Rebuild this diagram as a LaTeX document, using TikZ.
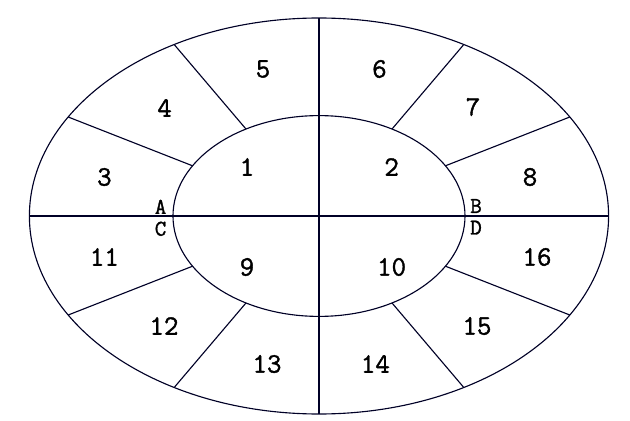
\documentclass[tikz,border=0pt]{standalone}
\usepackage{fontspec}
\newfontfamily\labelfont[FakeBold=1.4]{Latin Modern Mono}
\usepackage{tikz}
\usetikzlibrary{calc}
\colorlet{linecol}{black!85!blue}
\tikzset{ring/.style={draw=linecol,line width=0.8pt}}
\tikzset{num/.style={inner sep=0pt,font=\labelfont\fontsize{20}{20}\selectfont}}
\tikzset{pt/.style={inner sep=0pt,font=\labelfont\fontsize{16}{16}\selectfont}}

\begin{document}
\begin{tikzpicture}
                    \useasboundingbox (-7.975,-5.1) rectangle (7.775,5.4);

                    \draw[ring] (0,0) ellipse [x radius=7.24, y radius=4.95];
                    \draw[ring] (0,0) ellipse [x radius=3.65, y radius=2.51];

                    \coordinate (W) at (180:7.24 and 4.95);
                    \coordinate (E) at (0:7.24 and 4.95);
                    \coordinate (N) at (90:7.24 and 4.95);
                    \coordinate (S) at (270:7.24 and 4.95);

                    \coordinate (i30) at (30:3.65 and 2.51);
                    \coordinate (o30) at (30:7.24 and 4.95);
                    \coordinate (i60) at (60:3.65 and 2.51);
                    \coordinate (o60) at (60:7.24 and 4.95);
                    \coordinate (i120) at (120:3.65 and 2.51);
                    \coordinate (o120) at (120:7.24 and 4.95);
                    \coordinate (i150) at (150:3.65 and 2.51);
                    \coordinate (o150) at (150:7.24 and 4.95);
                    \coordinate (i210) at (210:3.65 and 2.51);
                    \coordinate (o210) at (210:7.24 and 4.95);
                    \coordinate (i240) at (240:3.65 and 2.51);
                    \coordinate (o240) at (240:7.24 and 4.95);
                    \coordinate (i300) at (300:3.65 and 2.51);
                    \coordinate (o300) at (300:7.24 and 4.95);
                    \coordinate (i330) at (330:3.65 and 2.51);
                    \coordinate (o330) at (330:7.24 and 4.95);

                    \draw[ring] (W) -- (E);
                    \draw[ring] (N) -- (S);
                    \draw[ring] (i30) -- (o30);
                    \draw[ring] (i60) -- (o60);
                    \draw[ring] (i120) -- (o120);
                    \draw[ring] (i150) -- (o150);
                    \draw[ring] (i210) -- (o210);
                    \draw[ring] (i240) -- (o240);
                    \draw[ring] (i300) -- (o300);
                    \draw[ring] (i330) -- (o330);

                    \node[num] (n1) at (-1.8,1.225) {1};
                    \node[num] (n2) at (1.815,1.225) {2};
                    \node[num] (n3) at (-5.365,0.975) {3};
                    \node[num] (n4) at (-3.86,2.7) {4};
                    \node[num] (n5) at (-1.4,3.675) {5};
                    \node[num] (n6) at (1.51,3.675) {6};
                    \node[num] (n7) at (3.85,2.725) {7};
                    \node[num] (n8) at (5.275,0.975) {8};
                    \node[num] (n9) at (-1.8,-1.275) {9};
                    \node[num] (n10) at (1.815,-1.275) {10};
                    \node[num] (n11) at (-5.365,-1.025) {11};
                    \node[num] (n12) at (-3.875,-2.75) {12};
                    \node[num] (n13) at (-1.3,-3.7) {13};
                    \node[num] (n14) at (1.41,-3.7) {14};
                    \node[num] (n15) at (3.95,-2.75) {15};
                    \node[num] (n16) at (5.45,-1.025) {16};

                    \node[pt] (pA) at (-3.96,0.23) {A};
                    \node[pt] (pC) at (-3.96,-0.32) {C};
                    \node[pt] (pB) at (3.925,0.25) {B};
                    \node[pt] (pD) at (3.925,-0.29) {D};
                \end{tikzpicture}
\end{document}
